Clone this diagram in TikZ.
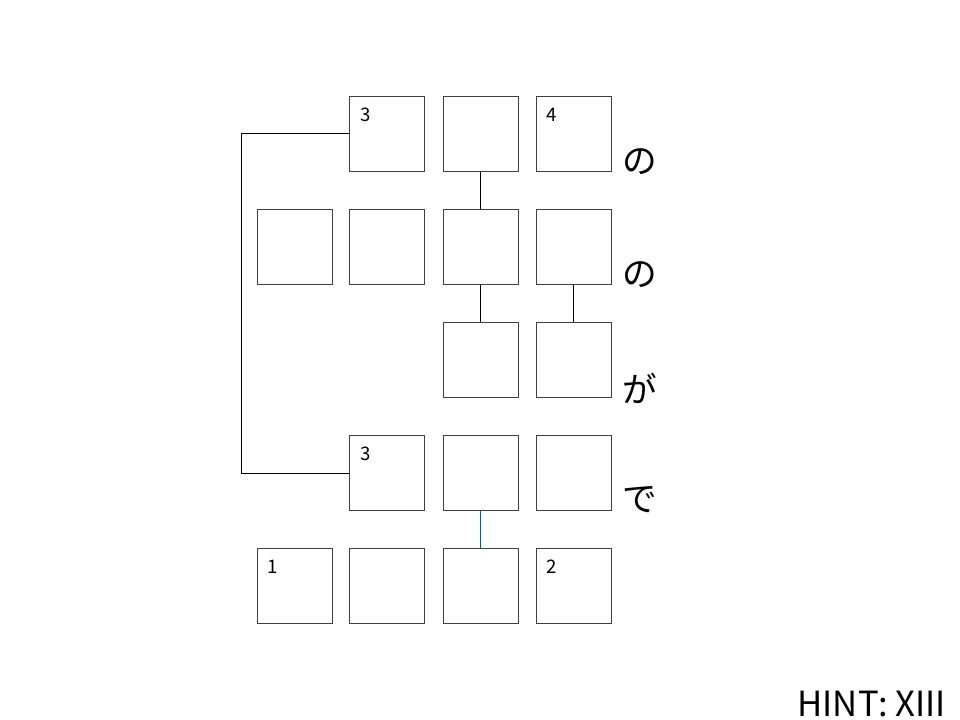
\documentclass[tikz,border=0pt]{standalone}
\usepackage{fontspec}
\setmainfont{Noto Sans CJK JP}
\usetikzlibrary{positioning,calc}
\definecolor{boxgray}{RGB}{64,64,64}
\definecolor{linkblue}{RGB}{20,90,125}

\begin{document}
\begin{tikzpicture}[x=0.75pt, y=-0.75pt,
      cell/.style={draw=boxgray, line width=0.75pt, minimum size=56.25pt, inner sep=0pt},
      num/.style={font=\fontsize{14}{14}\selectfont, anchor=north west, inner sep=0pt},
      kana/.style={font=\fontsize{26}{26}\selectfont, anchor=center},
      link/.style={line width=0.75pt, black}]
    \useasboundingbox (0,0) rectangle (960,720);
    % row 1
    \node[cell] (a2) at (387,134) {};
    \node[cell] (a3) at (480.5,134) {};
    \node[cell] (a4) at (573.5,134) {};
    % row 2
    \node[cell] (b1) at (294.5,247) {};
    \node[cell] (b2) at (387,247) {};
    \node[cell] (b3) at (480.5,247) {};
    \node[cell] (b4) at (573.5,247) {};
    % row 3
    \node[cell] (c3) at (480.5,360) {};
    \node[cell] (c4) at (573.5,360) {};
    % row 4
    \node[cell] (d2) at (387,473) {};
    \node[cell] (d3) at (480.5,473) {};
    \node[cell] (d4) at (573.5,473) {};
    % row 5
    \node[cell] (e1) at (294.5,586) {};
    \node[cell] (e2) at (387,586) {};
    \node[cell] (e3) at (480.5,586) {};
    \node[cell] (e4) at (573.5,586) {};
    % numbers
    \node[num] at ($(a2.north west)+(11,12)$) {3};
    \node[num] at ($(a4.north west)+(11,12)$) {4};
    \node[num] at ($(d2.north west)+(11,12)$) {3};
    \node[num] at ($(e1.north west)+(11,12)$) {1};
    \node[num] at ($(e4.north west)+(11,12)$) {2};
    % kana
    \node[kana] (k1) at (640,162) {の};
    \node[kana] (k2) at (640,275) {の};
    \node[kana] (k3) at (640,388) {が};
    \node[kana] (k4) at (640,500) {で};
    % connectors
    \draw[link] (a3.south) -- (b3.north);
    \draw[link] (b3.south) -- (c3.north);
    \draw[link] (b4.south) -- (c4.north);
    \draw[link, linkblue] (d3.south) -- (e3.north);
    \coordinate (bt) at (241,134);
    \coordinate (bb) at (241,473);
    \draw[link] (a2.west) -- (bt) -- (bb) -- (d2.west);
    % hint
    \node[font=\fontsize{26}{26}\selectfont, anchor=south east, inner sep=0pt] (hint) at (946,717) {HINT: XIII};
\end{tikzpicture}
\end{document}
